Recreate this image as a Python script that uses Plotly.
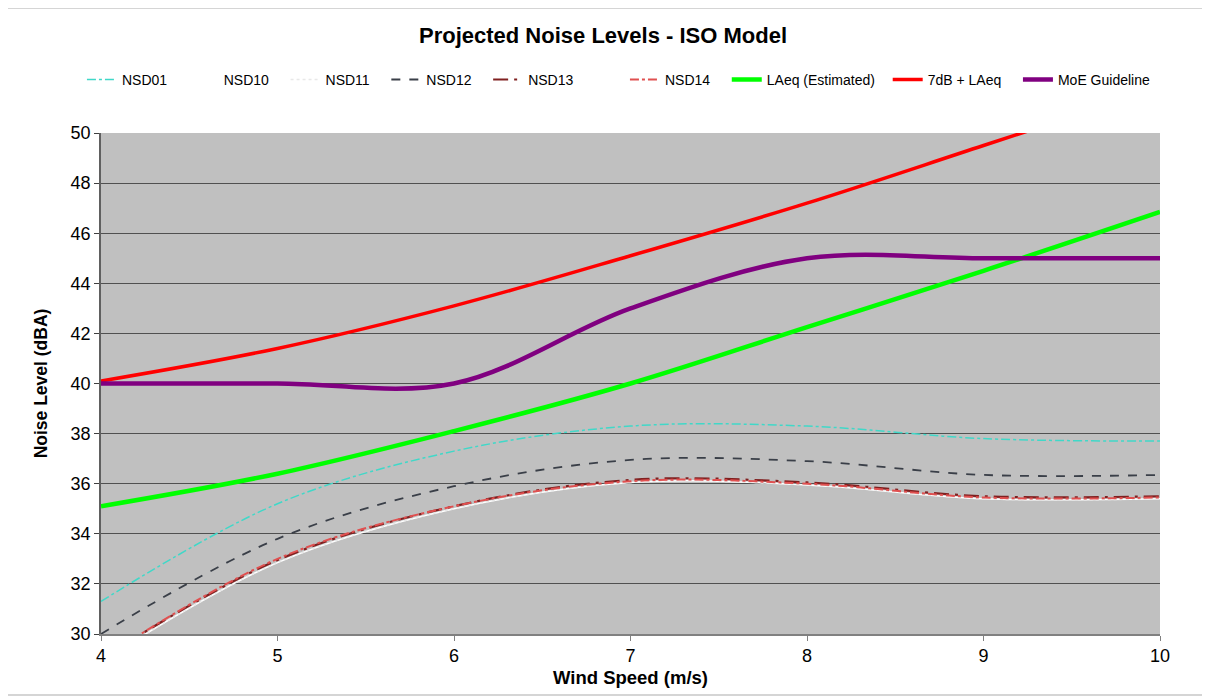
import plotly.graph_objects as go

wind_speed = [4, 5, 6, 7, 8, 9, 10]
nsd01 = [31.3, 35.2, 37.3, 38.3, 38.3, 37.8, 37.7]
nsd10 = [28.9, 32.85, 35.0, 36.05, 35.95, 35.4, 35.4]
nsd11 = [28.9, 32.85, 35.0, 36.05, 35.95, 35.4, 35.4]
nsd12 = [30.0, 33.8, 35.9, 36.95, 36.9, 36.35, 36.35]
nsd13 = [29.0, 32.95, 35.1, 36.15, 36.05, 35.5, 35.5]
nsd14 = [29.0, 33.0, 35.1, 36.1, 36.0, 35.45, 35.45]
laeq = [35.1, 36.4, 38.1, 40.0, 42.25, 44.5, 46.85]
laeq_7db = [40.1, 41.4, 43.1, 45.1, 47.2, 49.5, 51.8]
moe = [40, 40, 40, 43, 45, 45, 45]

y_ticks = [30, 32, 34, 36, 38, 40, 42, 44, 46, 48, 50]
x_ticks = [4, 5, 6, 7, 8, 9, 10]

FONT = "Liberation Sans, Arial, sans-serif"
NB = "\u00a0"

# (name, values, line style, legend padding in non-breaking spaces)
series = [
    ("NSD01", nsd01, dict(color="#40d8c8", width=1.5, dash="dashdot"), 3),
    ("NSD10", nsd10, dict(color="#ffffff", width=1.5, dash="solid"), 3),
    ("NSD11", nsd11, dict(color="#e8e8e8", width=1.5, dash="dot"), 3),
    ("NSD12", nsd12, dict(color="#3a3f48", width=1.8, dash="dash"), 3),
    ("NSD13", nsd13, dict(color="#802020", width=2.2, dash="longdashdot"), 12),
    ("NSD14", nsd14, dict(color="#e05050", width=2, dash="dashdot"), 3),
    ("LAeq (Estimated)", laeq, dict(color="#00ff00", width=4.5), 2),
    ("7dB + LAeq", laeq_7db, dict(color="#ff0000", width=3.5), 3),
    ("MoE Guideline", moe, dict(color="#800080", width=4.5), 0),
]

fig = go.Figure()
for name, vals, line, pad in series:
    fig.add_trace(go.Scatter(
        x=wind_speed, y=vals, name=name + NB * pad, mode="lines",
        line=dict(shape="spline", smoothing=1.0, **line),
    ))

# the page body adds an 8px offset; margins compensate so the plot sits at x 101-1160, y 133-634
fig.update_layout(
    width=1210, height=697,
    margin=dict(l=93, r=58, t=125, b=71),
    paper_bgcolor="#ffffff",
    plot_bgcolor="#c0c0c0",
    font=dict(family=FONT, color="#000000", size=16),
    title=dict(text="<b>Projected Noise Levels - ISO Model</b>", x=(603 - 8) / 1210, xanchor="center",
               y=1 - 27 / 697, yanchor="middle", font=dict(size=22, family=FONT)),
    showlegend=True,
    legend=dict(orientation="h", x=-0.018, xanchor="left", y=1.106, yanchor="middle",
                font=dict(size=14, family=FONT), bgcolor="rgba(0,0,0,0)",
                itemwidth=30, traceorder="normal"),
    xaxis=dict(range=[4, 10], tickvals=x_ticks, ticks="outside", ticklen=5,
               tickcolor="#808080", showgrid=False, zeroline=False,
               showline=True, linecolor="#808080", linewidth=1.5,
               tickfont=dict(size=18, family=FONT),
               title=dict(text="<b>Wind Speed (m/s)</b>", font=dict(size=18.5, family=FONT), standoff=6)),
    yaxis=dict(range=[30, 50], tickvals=y_ticks, ticks="outside", ticklen=5,
               tickcolor="#404040", showgrid=True, gridcolor="#505050", gridwidth=1,
               zeroline=False, showline=True, linecolor="#606060", linewidth=1.5,
               tickfont=dict(size=18, family=FONT),
               title=dict(text="<b>Noise Level (dBA)</b>", font=dict(size=17.5, family=FONT), standoff=18)),
    shapes=[dict(type="rect", xref="paper", yref="paper",
                 x0=(7 - 101) / 1059, x1=(1208 - 101) / 1059,
                 y0=(634 - 695) / 501, y1=(634 - 8) / 501,
                 line=dict(color="#c8c8c8", width=1.5), fillcolor="rgba(0,0,0,0)", layer="below")],
)

fig.write_html("out.html")
